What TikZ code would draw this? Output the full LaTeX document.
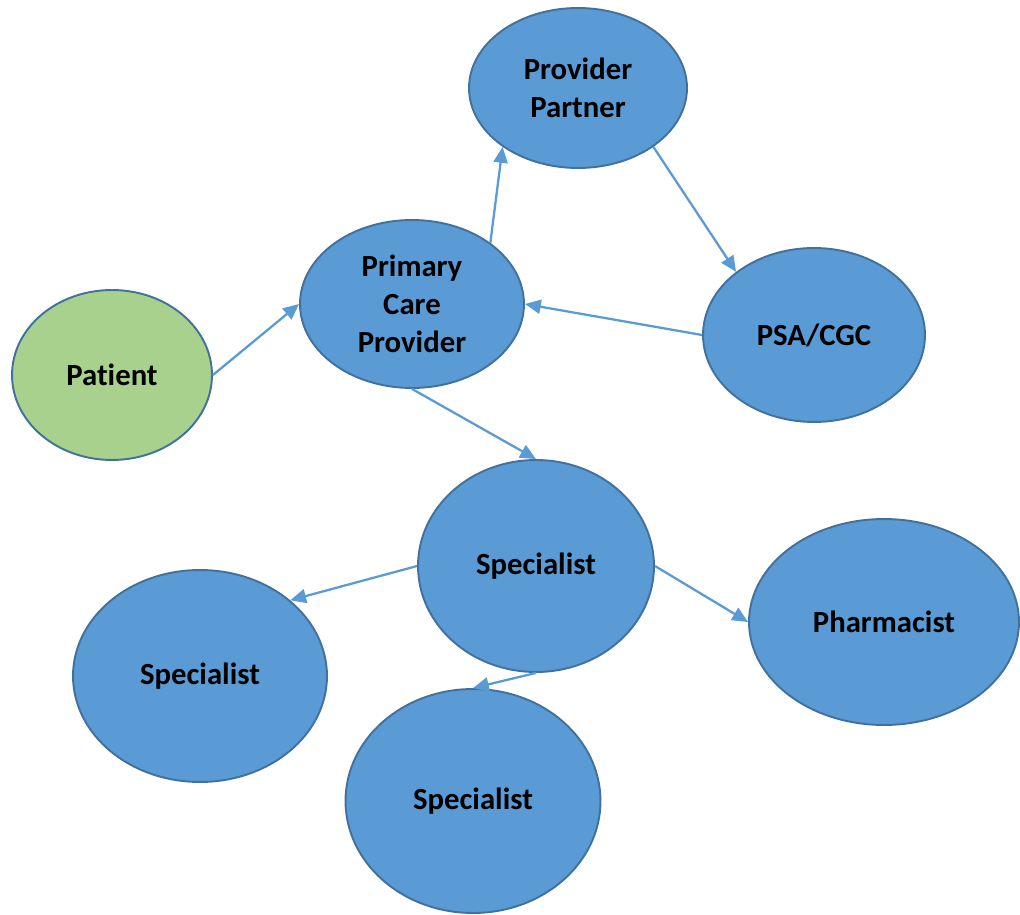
\documentclass[tikz,border=0pt]{standalone}
\usepackage{fontspec}
\setmainfont{Carlito}[Ligatures=NoCommon]
\usepackage{xcolor}
\usetikzlibrary{shapes.geometric, arrows.meta}
\definecolor{colorFill}{HTML}{5B9BD5}
\definecolor{colorEdge}{HTML}{41719C}
\definecolor{colorPat}{HTML}{A9D18E}

\begin{document}
\begin{tikzpicture}[x=0.02cm, y=-0.02cm,
        bubble/.style={ellipse, draw=colorEdge, line width=1.1pt, fill=colorFill, inner sep=0pt,
            align=center, font=\fontsize{17.5}{21.5}\selectfont\bfseries},
        link/.style={draw=colorFill, line width=1.3pt, -{Triangle[length=9pt, width=8pt]}}]
        \useasboundingbox (0,0) rectangle (1020,915);
        \node[bubble, minimum width=4.36cm, minimum height=3.2cm] (partner) at (578,88) {Provider\\Partner};
        \node[bubble, minimum width=4.48cm, minimum height=3.36cm] (pcp) at (412,304) {Primary\\Care\\Provider};
        \node[bubble, minimum width=4.44cm, minimum height=3.48cm] (psa) at (814,335) {PSA/CGC};
        \node[bubble, fill=colorPat, minimum width=4cm, minimum height=3.4cm] (patient) at (112,375) {Patient};
        \node[bubble, minimum width=4.72cm, minimum height=4.24cm] (spec) at (536,566) {Specialist};
        \node[bubble, minimum width=5.08cm, minimum height=4.24cm] (specL) at (200,676) {Specialist};
        \node[bubble, minimum width=5.4cm, minimum height=4.12cm] (pharm) at (884,622) {Pharmacist};
        \node[bubble, minimum width=5.1cm, minimum height=4.48cm] (specB) at (473,801) {Specialist};
        \draw[link] (patient.east) -- (pcp.west);
        \draw[link] (pcp.38) -- (partner.218);
        \draw[link] (partner.322) -- (psa.141);
        \draw[link] (psa.west) -- (pcp.east);
        \draw[link] (pcp.south) -- (spec.north);
        \draw[link] (spec.west) -- (specL.40);
        \draw[link] (spec.east) -- (pharm.west);
        \draw[link] (spec.south) -- (specB.north);
    \end{tikzpicture}
\end{document}
